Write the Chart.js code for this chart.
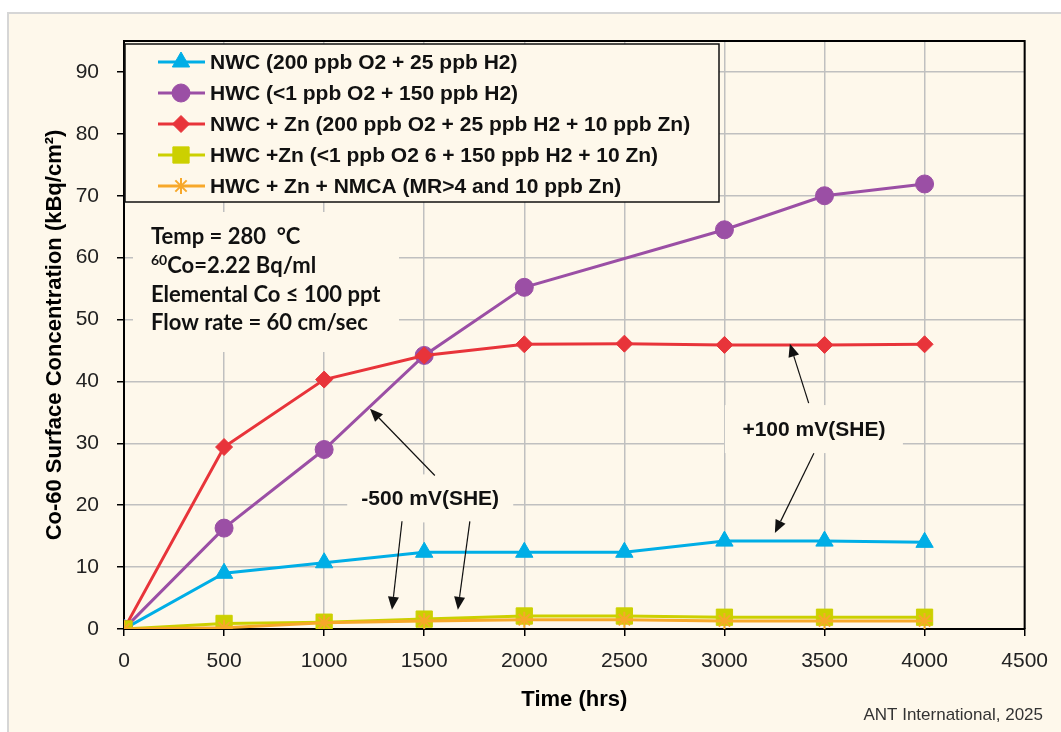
<!DOCTYPE html>
<html>
<head>
<meta charset="utf-8">
<script src="https://cdn.jsdelivr.net/npm/chart.js@4.4.0/dist/chart.umd.min.js"></script>
<style>
body { margin: 0; background: #fff; }
canvas { display: block; }
</style>
</head>
<body>
<canvas id="coChart" width="1061" height="732"></canvas>
<script>
// Data (time in hrs, Co-60 in kBq/cm2)
var hours = [0, 500, 1000, 1500, 2000, 2500, 3000, 3500, 4000];
var nwc = [0, 9.0, 10.7, 12.4, 12.4, 12.4, 14.2, 14.2, 14.0];
var hwc = [0, 16.3, 29.0, 44.2, 55.2, null, 64.5, 70.0, 71.9];
var nwcZn = [0, 29.4, 40.3, 44.2, 46.0, 46.1, 45.9, 45.9, 46.0];
var hwcZn = [0, 0.9, 1.1, 1.6, 2.1, 2.1, 1.9, 1.9, 1.9];
var hwcZnNmca = [0, 0.2, 1.0, 1.3, 1.5, 1.5, 1.3, 1.3, 1.3];

var seriesNames = [
	'NWC (200 ppb O2 + 25 ppb H2)',
	'HWC (<1 ppb O2 + 150 ppb H2)',
	'NWC + Zn (200 ppb O2 + 25 ppb H2 + 10 ppb Zn)',
	'HWC +Zn (<1 ppb O2 6 + 150 ppb H2 + 10 Zn)',
	'HWC + Zn + NMCA (MR>4 and 10 ppb Zn)'
];

var xTicks = [0, 500, 1000, 1500, 2000, 2500, 3000, 3500, 4000, 4500];
var yTicks = [0, 10, 20, 30, 40, 50, 60, 70, 80, 90];

var infoLines = ['Temp = 280  \u00B0C', 'Co=2.22 Bq/ml', 'Elemental Co \u2264 100 ppt', 'Flow rate = 60 cm/sec'];

var cream = '#fef8eb';

function pts(values) {
	return hours.map(function (h, i) { return {x: h, y: values[i]}; });
}

function series(i, values, color, style, radius, order) {
	return {
		label: seriesNames[i],
		data: pts(values),
		borderColor: color,
		backgroundColor: color,
		borderWidth: 3,
		pointStyle: style,
		pointRadius: radius,
		pointHoverRadius: radius,
		pointBorderWidth: style === 'star' ? 2 : 1,
		pointBackgroundColor: color,
		pointBorderColor: color,
		tension: 0,
		spanGaps: true,
		order: order
	};
}

// callouts placed in data units so they follow the axes
var callouts = [
	{text: '-500 mV(SHE)', x: 1530, y: 21.1, w: 166, h: 48},
	{text: '+100 mV(SHE)', x: 3447, y: 32.3, w: 178, h: 48}
];
var arrows = [
	[1553, 24.8, 1229, 35.6],
	[1389, 17.4, 1339, 3.1],
	[1728, 17.4, 1668, 3.1],
	[3421, 36.5, 3327, 46.1],
	[3447, 28.4, 3252, 15.5]
];

function arrow(ctx, x1, y1, x2, y2) {
	var a = Math.atan2(y2 - y1, x2 - x1);
	var len = 13, half = 5.5;
	ctx.beginPath();
	ctx.moveTo(x1, y1);
	ctx.lineTo(x2 - Math.cos(a) * len, y2 - Math.sin(a) * len);
	ctx.stroke();
	ctx.beginPath();
	ctx.moveTo(x2, y2);
	ctx.lineTo(x2 - Math.cos(a) * len - Math.sin(a) * half, y2 - Math.sin(a) * len + Math.cos(a) * half);
	ctx.lineTo(x2 - Math.cos(a) * len + Math.sin(a) * half, y2 - Math.sin(a) * len - Math.cos(a) * half);
	ctx.closePath();
	ctx.fill();
}

var backdrop = {
	id: 'backdrop',
	beforeDraw: function (chart) {
		var ctx = chart.ctx;
		ctx.save();
		ctx.fillStyle = '#ffffff';
		ctx.fillRect(0, 0, chart.width, chart.height);
		ctx.fillStyle = cream;
		ctx.fillRect(8, 13, chart.width, chart.height);
		ctx.strokeStyle = '#d6d6d6';
		ctx.lineWidth = 2;
		ctx.beginPath();
		ctx.moveTo(8, chart.height);
		ctx.lineTo(8, 13);
		ctx.lineTo(chart.width, 13);
		ctx.stroke();
		ctx.restore();
	}
};

var notes = {
	id: 'notes',
	beforeDatasetsDraw: function (chart) {
		var ctx = chart.ctx, xs = chart.scales.x, ys = chart.scales.y;
		ctx.save();

		// info box
		ctx.fillStyle = cream;
		ctx.fillRect(133, 212, 266, 140);
		ctx.fillStyle = '#111';
		ctx.textBaseline = 'middle';
		ctx.textAlign = 'left';
		var ly = [237, 266, 295, 323];
		infoLines.forEach(function (t, i) {
			var x = 151;
			if (i === 1) {
				ctx.font = 'bold 14px Lato';
				ctx.fillText('60', x, ly[i] - 6);
				x += ctx.measureText('60').width;
			}
			ctx.font = 'bold 22px Lato';
			ctx.fillText(t, x, ly[i]);
		});

		// callout boxes
		ctx.font = 'bold 21px "Liberation Sans"';
		ctx.textAlign = 'center';
		callouts.forEach(function (c) {
			var cx = xs.getPixelForValue(c.x), cy = ys.getPixelForValue(c.y);
			ctx.fillStyle = cream;
			ctx.fillRect(cx - c.w / 2, cy - c.h / 2, c.w, c.h);
			ctx.fillStyle = '#111';
			ctx.fillText(c.text, cx, cy + 1);
		});

		// legend
		ctx.fillStyle = cream;
		ctx.fillRect(125, 44, 594, 158);
		ctx.strokeStyle = '#111';
		ctx.lineWidth = 1.5;
		ctx.strokeRect(125, 44, 594, 158);
		ctx.textAlign = 'left';
		ctx.font = 'bold 21px "Liberation Sans"';
		chart.data.datasets.forEach(function (ds, i) {
			var y = 62 + i * 31;
			ctx.strokeStyle = ds.borderColor;
			ctx.lineWidth = 3;
			ctx.beginPath();
			ctx.moveTo(158, y);
			ctx.lineTo(205, y);
			ctx.stroke();
			ctx.fillStyle = ds.backgroundColor;
			ctx.lineWidth = ds.pointBorderWidth;
			Chart.helpers.drawPoint(ctx, {pointStyle: ds.pointStyle, radius: ds.pointRadius, rotation: 0, borderWidth: ds.pointBorderWidth}, 181, y);
			ctx.fillStyle = '#111';
			ctx.fillText(ds.label, 210, y + 1);
		});
		ctx.restore();
	},
	afterDatasetsDraw: function (chart) {
		var ctx = chart.ctx, a = chart.chartArea, xs = chart.scales.x, ys = chart.scales.y;
		ctx.save();
		ctx.strokeStyle = '#000';
		ctx.lineWidth = 2;
		ctx.beginPath();
		ctx.moveTo(a.left, a.top);
		ctx.lineTo(a.right, a.top);
		ctx.lineTo(a.right, a.bottom);
		ctx.stroke();

		ctx.strokeStyle = '#111';
		ctx.fillStyle = '#111';
		ctx.lineWidth = 1.2;
		arrows.forEach(function (r) {
			arrow(ctx, xs.getPixelForValue(r[0]), ys.getPixelForValue(r[1]), xs.getPixelForValue(r[2]), ys.getPixelForValue(r[3]));
		});

		ctx.font = '17px "Liberation Sans"';
		ctx.fillStyle = '#333';
		ctx.textAlign = 'right';
		ctx.textBaseline = 'middle';
		ctx.fillText('ANT International, 2025', 1043, 715);
		ctx.restore();
	}
};

function plain(v) { return String(v); }

new Chart(document.getElementById('coChart'), {
	type: 'line',
	data: {
		datasets: [
			series(0, nwc, '#00aee6', 'triangle', 10, 4),
			series(1, hwc, '#9b4fa5', 'circle', 9, 3),
			series(2, nwcZn, '#e8343a', 'rectRot', 8.5, 2),
			series(3, hwcZn, '#ccd000', 'rect', 11.5, 1),
			series(4, hwcZnNmca, '#f7a82a', 'star', 8, 0)
		]
	},
	options: {
		responsive: false,
		animation: false,
		devicePixelRatio: 1,
		layout: {
			padding: {left: 0, top: 41, right: 36, bottom: 0}
		},
		plugins: {
			legend: {display: false},
			tooltip: {enabled: false}
		},
		scales: {
			x: {
				type: 'linear',
				min: 0,
				max: 4500,
				afterFit: function (s) { s.height = 103; },
				afterBuildTicks: function (s) { s.ticks = xTicks.map(function (v) { return {value: v}; }); },
				grid: {color: '#c0c0c0', lineWidth: 1.5, tickColor: '#000', tickLength: 7},
				border: {color: '#000', width: 2},
				ticks: {color: '#222', padding: 13, maxRotation: 0, callback: plain, font: {family: 'Liberation Sans', size: 21}},
				title: {
					display: true,
					text: 'Time (hrs)',
					color: '#000',
					padding: {top: 0, bottom: 19},
					font: {family: 'Liberation Sans', size: 22, weight: 'bold'}
				}
			},
			y: {
				min: 0,
				max: 95,
				afterFit: function (s) { s.width = 124; },
				afterBuildTicks: function (s) { s.ticks = yTicks.map(function (v) { return {value: v}; }); },
				grid: {color: '#c0c0c0', lineWidth: 1.5, tickColor: '#000', tickLength: 7},
				border: {color: '#000', width: 2},
				ticks: {color: '#222', padding: 18, callback: plain, font: {family: 'Liberation Sans', size: 21}},
				title: {
					display: true,
					text: 'Co-60 Surface Concentration (kBq/cm\u00B2)',
					color: '#000',
					padding: {top: 42, bottom: 0},
					font: {family: 'Liberation Sans', size: 22, weight: 'bold'}
				}
			}
		}
	},
	plugins: [backdrop, notes]
});
</script>
</body>
</html>
